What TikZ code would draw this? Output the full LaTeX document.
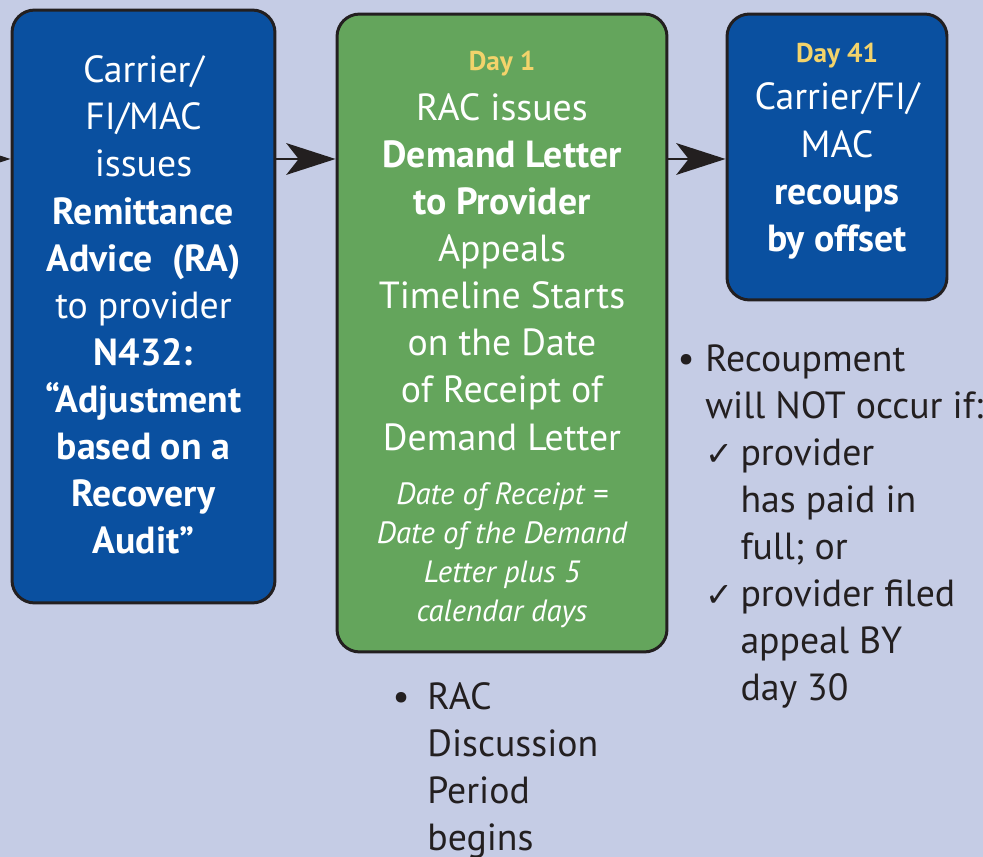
\documentclass[tikz,border=0pt]{standalone}
\usepackage{fontspec}
\setmainfont{PT Sans}
\newfontfamily\checkfont{DejaVu Sans}
\usetikzlibrary{arrows.meta}
\definecolor{bgcol}{HTML}{C5CCE5}
\definecolor{racblue}{HTML}{0A50A0}
\definecolor{racgreen}{HTML}{64A55C}
\definecolor{dayyellow}{HTML}{F3D36B}
\definecolor{edgecol}{HTML}{231F20}
\newcommand{\chk}{\makebox[20pt][l]{\checkfont\fontsize{19}{26.8}\selectfont ✓}}
\begin{document}
\begin{tikzpicture}[x=0.02cm,y=-0.02cm,
  box/.style={draw=edgecol,line width=1.7pt,rounded corners=0.45cm,inner sep=0pt},
  bigtxt/.style={text=white,align=center,inner sep=0pt,font=\fontsize{21.5}{26.8}\selectfont},
  daytxt/.style={text=dayyellow,inner sep=0pt,font=\bfseries\fontsize{15.5}{18}\selectfont},
  notetxt/.style={text=white,align=center,inner sep=0pt,font=\itshape\fontsize{17.5}{22.1}\selectfont},
  sidetxt/.style={text=edgecol,align=left,inner sep=0pt,anchor=north west,font=\fontsize{21.5}{26.8}\selectfont},
  arr/.style={edgecol,line width=1.7pt,-{Stealth[length=28pt,width=18pt,inset=7pt]}}]
\useasboundingbox[fill=bgcol] (0,0) rectangle (983,857);

% boxes
\node[box,fill=racblue,minimum width=5.26cm,minimum height=11.86cm] (ra) at (143.5,306.5) {};
\node[box,fill=racgreen,minimum width=6.6cm,minimum height=12.76cm] (dl) at (502,333) {};
\node[box,fill=racblue,minimum width=4.4cm,minimum height=5.72cm] (rec) at (837,157) {};

% arrows
\coordinate (lvl) at (-80,159);
\draw[arr] (lvl) -- (ra.west |- lvl);
\draw[arr] (ra.east |- lvl) -- (dl.west |- lvl);
\draw[arr] (dl.east |- lvl) -- (rec.west |- lvl);

% texts in boxes
\node[bigtxt] (ratxt) at (143.5,305) {Carrier/\\FI/MAC\\issues\\\textbf{Remittance}\\\textbf{Advice\ \ (RA)}\\to provider\\\textbf{N432:}\\\textbf{“Adjustment}\\\textbf{based on a}\\\textbf{Recovery}\\\textbf{Audit”}};
\node[daytxt] (d1) at (502,64) {Day 1};
\node[bigtxt] (dltxt) at (502,272) {RAC issues\\\textbf{Demand Letter}\\\textbf{to Provider}\\Appeals\\Timeline Starts\\on the Date\\of Receipt of\\Demand Letter};
\node[notetxt] (dlnote) at (502,555) {Date of Receipt =\\Date of the Demand\\Letter plus 5\\calendar days};
\node[daytxt] (d41) at (837,56) {Day 41};
\node[bigtxt] (rectxt) at (837,171) {Carrier/FI/\\MAC\\\textbf{recoups}\\\textbf{by offset}};

% notes below
\node[sidetxt] (disc) at (427,682) {\llap{•\hspace{10pt}}RAC\\Discussion\\Period\\begins};
\node[sidetxt] (nocc) at (705,344) {\llap{•\hspace{6pt}}Recoupment\\will NOT occur if:\\\chk provider\\\hspace{20pt}has paid in\\\hspace{20pt}full; or\\\chk provider filed\\\hspace{20pt}appeal BY\\\hspace{20pt}day 30};
\end{tikzpicture}
\end{document}
